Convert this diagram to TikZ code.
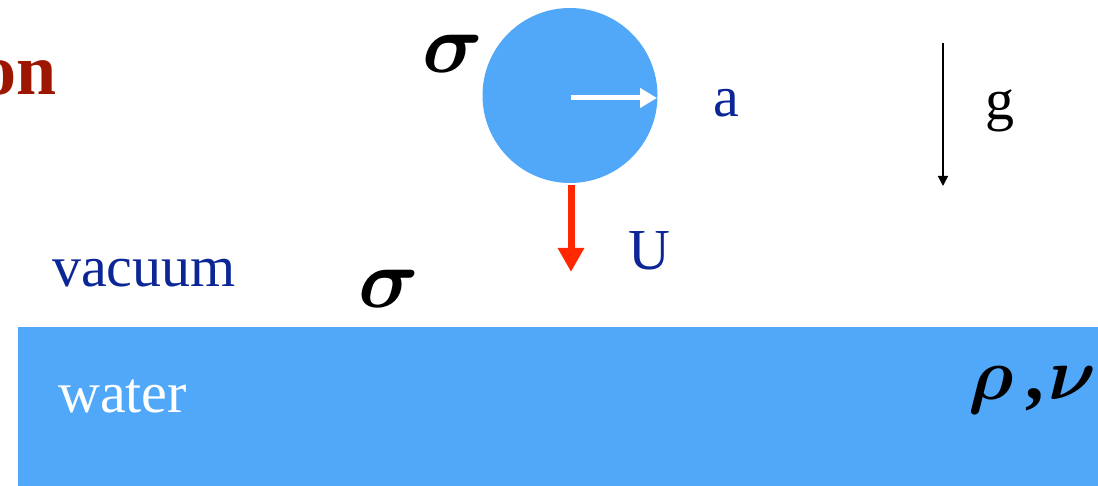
\RequirePackage{fix-cm}
\documentclass[tikz,border=0pt]{standalone}
\usepackage{amsmath}
\usepackage{fontspec}
\setmainfont{Liberation Serif}
\usetikzlibrary{arrows.meta}
\definecolor{ballblue}{RGB}{82,168,248}
\definecolor{txtblue}{RGB}{12,38,150}
\definecolor{titlered}{RGB}{156,22,0}
\definecolor{arrred}{RGB}{255,40,0}
\tikzset{
  lbl/.style={anchor=base west, inner sep=0pt, font=\fontsize{58}{62}\selectfont},
  greek/.style={anchor=base west, inner sep=0pt, font=\fontsize{84}{88}\selectfont},
  greeks/.style={anchor=base west, inner sep=0pt, font=\fontsize{74}{78}\selectfont},
}
\begin{document}
\begin{tikzpicture}[x=1pt,y=1pt]
\useasboundingbox (0,0) rectangle (1098,486);
% water
\fill[ballblue] (18,0) rectangle (1098,159);
\node[lbl, text=white] (water) at (58,73) {water};
\node[greeks] (rhonu) at (968,86) {$\boldsymbol{\rho}$\hspace{12pt}\textbf{,}\hspace{5pt}$\boldsymbol{\nu}$};
% title fragment
\node[anchor=base west, inner sep=0pt, text=titlered, font=\fontsize{72}{76}\selectfont\bfseries] (title) at (-20,391) {on};
% ball
\node[circle, fill=ballblue, minimum size=175pt, inner sep=0pt] (ball) at (570,390.5) {};
\coordinate (rend) at (657,388);
\coordinate (rstart) at (571,388);
\draw[white, line width=5pt, -{Triangle[length=17pt,width=19pt]}] (rstart) -- (rend);
\node[lbl, text=txtblue] (a) at (713,369) {a};
\node[greek] (sig1) at (422,413) {$\boldsymbol{\sigma}$};
% U arrow
\coordinate (ustart) at (571,301);
\coordinate (uend) at (571,214);
\draw[arrred, line width=7pt, -{Triangle[length=24pt,width=25pt]}] (ustart) -- (uend);
\node[lbl, text=txtblue] (U) at (628,216) {U};
\node[lbl, text=txtblue] (vac) at (52,199) {vacuum};
\node[greek] (sig2) at (358,178) {$\boldsymbol{\sigma}$};
% gravity
\coordinate (gs) at (943,443);
\coordinate (ge) at (943,300);
\draw[black, line width=1.5pt, -{Triangle[length=10pt,width=10pt]}] (gs) -- (ge);
\node[lbl] (g) at (985,366) {g};
\end{tikzpicture}
\end{document}
